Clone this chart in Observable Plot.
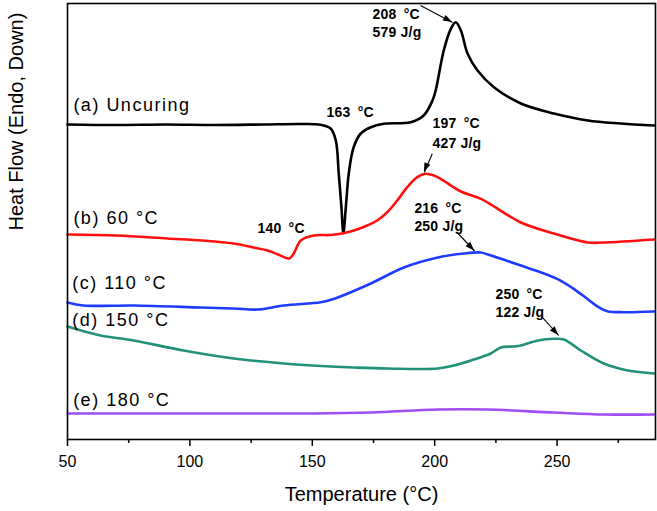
<!DOCTYPE html>
<html>
<head>
<meta charset="utf-8">
<script src="https://cdn.jsdelivr.net/npm/d3@7"></script>
<script src="https://cdn.jsdelivr.net/npm/@observablehq/plot@0.6"></script>
<style>
  html, body { margin: 0; padding: 0; background: #fff; }
  #chart svg { display: block; }
</style>
</head>
<body>
<div id="chart"></div>
<script>
// Temperature (°C) and heat flow (arbitrary units, exo up)
const aT  = [50,70,90,110,130,145.3,153.4,157.5,159.6,160.8,161.9,162.7,163.7,164.9,166.9,169.8,173.9,179.2,190.2,195.5,199.1,200.4,203.7,206.6,208.6,210.7,213.4,217.5,224.2,235.2,248.7,262.6,276,289.6];
const aHF = [315,314.5,315,314.5,315,315.5,314.7,311,299,266,232.3,206.3,232.3,266,292.3,306,312.3,315.7,317.3,324,339,349,389,410.7,417.3,409,386,369,352.3,336,326,319,316,314];

const bT  = [50,70,90.9,105,117.9,126,131.8,136,140.6,142.4,145.3,150.6,157.5,162.7,167,172.4,176.5,180.6,184.7,188.8,192.9,196.2,199.6,202.4,210.7,218.9,235.2,248.7,262.6,269.1,289.6];
const bHF = [205,204,201,199,196,192,189,185,181,186,199,204,204.5,206.3,209,214,219,227.3,239,252.3,262.3,265.7,264,260.7,248,240.7,217,206,197,197,200];

const cT  = [50,56.5,77,104.4,117.9,127.7,138.3,153.4,157.5,160.4,173.9,187.4,201.3,211.9,218.8,221.7,235.2,243.2,250,256.8,262.3,267,270.5,277.3,289.6];
const cHF = [137,134,134,132,131,130,134,137.3,139.7,142,156,172,182,186,187,185,174,167.3,160.7,150.7,140.7,132.3,128.3,127.3,128];

const dT  = [50,63.5,77,97.4,117.9,138.3,157.5,166.9,180.8,201.3,207.8,214.8,222.9,227,232.3,235.2,242.2,248.7,252.8,259.7,269.1,278.9,289.6];
const dHF = [113,104,99,89,81,76,73,72,71,71,74,79,86,92,93,94,99,100.7,100,89,76,69,66];

const eT  = [50,100,150,173.9,201.3,221.7,248.7,269.1,289.6];
const eHF = [26,26,26,27,30,30,27,25,25];

const seriesNames  = ["(a) Uncuring", "(b) 60 °C", "(c) 110 °C", "(d) 150 °C", "(e) 180 °C"];
const seriesColors = ["#000000", "#ff1010", "#1e3cff", "#21917a", "#a24cf5"];
const seriesT  = [aT, bT, cT, dT, eT];
const seriesHF = [aHF, bHF, cHF, dHF, eHF];

// curve labels (position in data units)
const labelT  = [52.4, 52.4, 51.9, 51.9, 52.3];
const labelHF = [329, 216, 151, 114, 34];

// peak annotations
const noteText = ["208\u2002°C", "579 J/g", "163\u2002°C", "197\u2002°C", "427 J/g", "216\u2002°C", "250 J/g", "140\u2002°C", "250\u2002°C", "122 J/g"];
const noteT    = [174.6, 174.6, 155.8, 199.1, 199.1, 191.7, 191.7, 127.6, 224.8, 224.8];
const noteHF   = [421, 403, 323, 312, 292, 227, 209, 207, 141, 123];

// arrows
const arrowT1  = [194.2, 199.0, 209.2, 243.9];
const arrowHF1 = [434, 285.7, 207, 122.3];
const arrowT2  = [207.3, 195.8, 216.3, 250.7];
const arrowHF2 = [417, 267.3, 188.5, 104];

const majorTicks = [50, 100, 150, 200, 250];
const minorTicks = [75, 125, 175, 225, 275];

const curves = seriesNames.flatMap((name, i) =>
  seriesT[i].map((t, j) => ({name, T: t, HF: seriesHF[i][j]})));
const labels = seriesNames.map((name, i) => ({name, T: labelT[i], HF: labelHF[i]}));
const notes  = noteText.map((s, i) => ({s, T: noteT[i], HF: noteHF[i]}));
const arrows = arrowT1.map((t, i) => ({x1: t, y1: arrowHF1[i], x2: arrowT2[i], y2: arrowHF2[i]}));

const font = "'Liberation Sans', Arial, Helvetica, sans-serif";

const chart = Plot.plot({
  width: 657,
  height: 511,
  marginLeft: 67,
  marginRight: 2,
  marginTop: 3,
  marginBottom: 72,
  style: {fontFamily: font, background: "#fff", color: "#000"},
  x: {domain: [50, 290.2]},
  y: {domain: [0, 436], axis: null},
  color: {domain: seriesNames, range: seriesColors},
  marks: [
    Plot.line(curves, {x: "T", y: "HF", z: "name", stroke: "name", strokeWidth: 2.6, curve: "catmull-rom"}),
    Plot.frame({stroke: "#000", strokeWidth: 1.6}),
    Plot.axisX({ticks: majorTicks, tickSize: 7, tickPadding: 9, fontSize: 16, tickFormat: d3.format("d"), label: null, strokeWidth: 1.5}),
    Plot.axisX({ticks: minorTicks, tickSize: 4, text: null, label: null, strokeWidth: 1.5}),
    Plot.text(labels, {x: "T", y: "HF", text: "name", textAnchor: "start", lineAnchor: "bottom", fontSize: 18, fill: "#000", ariaDescription: "curve-labels"}),
    Plot.text(notes, {x: "T", y: "HF", text: "s", textAnchor: "start", lineAnchor: "bottom", fontSize: 14, fontWeight: "bold", fill: "#000", ariaDescription: "peak-notes"}),
    Plot.link(arrows, {x1: "x1", y1: "y1", x2: "x2", y2: "y2", stroke: "#000", strokeWidth: 1.1}),
    Plot.text(["Temperature (°C)"], {frameAnchor: "bottom", dy: 61, lineAnchor: "bottom", fontSize: 20, fill: "#000"}),
    Plot.text(["Heat Flow (Endo, Down)"], {frameAnchor: "left", dx: -51, dy: 9, rotate: -90, lineAnchor: "middle", fontSize: 20, fill: "#000"})
  ]
});

const root = d3.select(chart);
root.selectAll('[aria-description="curve-labels"] text').style("letter-spacing", "1.5px");
root.selectAll('[aria-description="peak-notes"] text').style("letter-spacing", "0.2px");

// filled arrowheads, placed through the chart's own scales
const sx = chart.scale("x"), sy = chart.scale("y");
const heads = root.append("g").attr("fill", "#000");
arrows.forEach(a => {
  const x1 = sx.apply(a.x1), y1 = sy.apply(a.y1), x2 = sx.apply(a.x2), y2 = sy.apply(a.y2);
  const L = Math.hypot(x2 - x1, y2 - y1), ux = (x2 - x1) / L, uy = (y2 - y1) / L;
  const hl = 9, hw = 3.2;
  const bx = x2 - ux * hl, by = y2 - uy * hl;
  heads.append("path").attr("d",
    `M${x2},${y2}L${bx - uy * hw},${by + ux * hw}L${bx + uy * hw},${by - ux * hw}Z`);
});
document.getElementById("chart").appendChild(chart);
</script>
</body>
</html>
